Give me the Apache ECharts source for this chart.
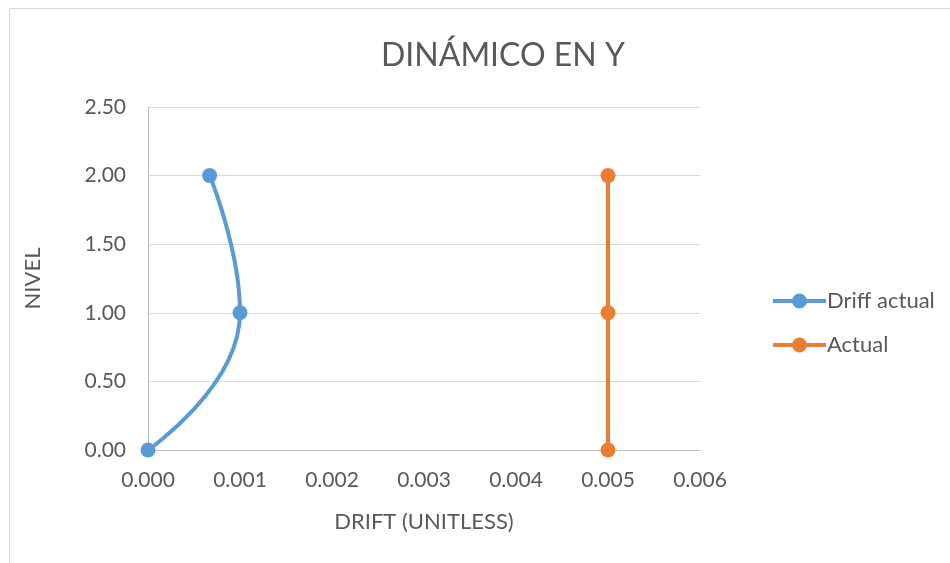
<!DOCTYPE html>
<html>
<head>
<meta charset="utf-8">
<script src="https://cdn.jsdelivr.net/npm/echarts@6/dist/echarts.min.js"></script>
<style>
  html, body { margin: 0; padding: 0; background: #fff; }
  #chart { width: 950px; height: 563px; }
</style>
</head>
<body>
<div id="chart"></div>
<script>
// Drift per level, Y direction (dynamic analysis)
const levels = [0, 1, 2];
const driftActual = [0.0, 0.001, 0.00067];
const driftLimit = [0.005, 0.005, 0.005];
const seriesNames = ['Driff actual', 'Actual'];
const seriesColors = ['#5b9bd5', '#ed7d31'];

const FONT = 'Lato, "Open Sans", sans-serif';
const TXT = '#595959';

// Legend glyph: thick line with a dot in the middle
const LEGEND_ICON = 'path://M0,5.5 H53 V9.5 H0 Z M19,7.5 A7.5,7.5 0 1,1 34,7.5 A7.5,7.5 0 1,1 19,7.5 Z';

const chart = echarts.init(document.getElementById('chart'));

function pairs(xs, ys) {
  return xs.map((x, i) => [x, ys[i]]);
}

function lineSeries(i, ys) {
  return {
    name: seriesNames[i],
    type: 'line',
    data: pairs(ys, levels),
    smooth: 0.5,
    symbol: 'circle',
    symbolSize: 15,
    color: seriesColors[i],
    lineStyle: { width: 4, color: seriesColors[i] },
    itemStyle: { color: seriesColors[i] }
  };
}

chart.setOption({
  animation: false,
  backgroundColor: '#ffffff',
  graphic: [{
    type: 'rect',
    shape: { x: 9.5, y: 8.5, width: 1000, height: 700 },
    style: { fill: 'none', stroke: '#d9d9d9', lineWidth: 1 },
    silent: true
  }],
  title: {
    text: 'DINÁMICO EN Y',
    left: 376,
    top: 35,
    textStyle: { fontFamily: FONT, fontSize: 32, fontWeight: 'normal', color: TXT }
  },
  legend: {
    orient: 'vertical',
    left: 768,
    top: 285,
    itemWidth: 53,
    itemHeight: 15,
    itemGap: 22,
    icon: LEGEND_ICON,
    textStyle: { fontFamily: FONT, fontSize: 22, color: TXT, padding: [0, 0, 0, -4] },
    data: seriesNames
  },
  grid: { left: 148, top: 107, right: 250, bottom: 113, containLabel: false },
  xAxis: {
    type: 'value',
    min: 0, max: 0.006, interval: 0.001,
    name: 'DRIFT (UNITLESS)',
    nameLocation: 'middle',
    nameGap: 61,
    nameTextStyle: { fontFamily: FONT, fontSize: 22, color: TXT },
    axisLine: { show: true, lineStyle: { color: '#bfbfbf', width: 1 } },
    axisTick: { show: false },
    splitLine: { show: false },
    axisLabel: {
      margin: 20,
      fontFamily: FONT, fontSize: 21, color: TXT,
      formatter: v => v.toFixed(3)
    }
  },
  yAxis: {
    type: 'value',
    min: 0, max: 2.5, interval: 0.5,
    name: 'NIVEL',
    nameLocation: 'middle',
    nameGap: 104,
    nameRotate: 90,
    nameTextStyle: { fontFamily: FONT, fontSize: 22, color: TXT },
    axisLine: { show: true, lineStyle: { color: '#bfbfbf', width: 1 } },
    axisTick: { show: false },
    splitLine: { show: true, lineStyle: { color: '#d9d9d9', width: 1 } },
    axisLabel: {
      margin: 22,
      fontFamily: FONT, fontSize: 21, color: TXT,
      formatter: v => v.toFixed(2)
    }
  },
  series: [
    lineSeries(0, driftActual),
    lineSeries(1, driftLimit)
  ]
});
</script>
</body>
</html>
